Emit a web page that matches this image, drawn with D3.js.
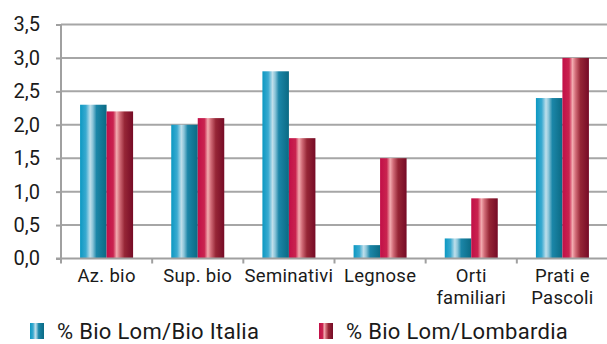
<!DOCTYPE html>
<html>
<head>
<meta charset="utf-8">
<script src="https://cdn.jsdelivr.net/npm/d3@7/dist/d3.min.js"></script>
<style>
  html, body { margin: 0; padding: 0; background: #fff; }
  svg { display: block; }
  text { font-family: Roboto, "DejaVu Sans", sans-serif; fill: #1a1a1a; }
</style>
</head>
<body>
<svg id="chart" width="607" height="344"></svg>
<script>
// Categories and the two series
const categories = ["Az. bio", "Sup. bio", "Seminativi", "Legnose", "Orti\nfamiliari", "Prati e\nPascoli"];
const bioItalia = [2.3, 2.0, 2.8, 0.2, 0.3, 2.4];
const bioLombardia = [2.2, 2.1, 1.8, 1.5, 0.9, 3.0];
const seriesNames = ["% Bio Lom/Bio Italia", "% Bio Lom/Lombardia"];
const yTicks = [0, 0.5, 1.0, 1.5, 2.0, 2.5, 3.0, 3.5];

const W = 607, H = 344;
const margin = { left: 61, right: 0, top: 24.5, bottom: 85.5 };
const svg = d3.select("#chart");

const x0 = d3.scaleBand().domain(categories).range([margin.left, W + 1]).paddingInner(0).paddingOuter(0);
const x1 = d3.scaleBand().domain([0, 1]).range([0, x0.bandwidth()]).paddingInner(0).paddingOuter(0.72);
const y = d3.scaleLinear().domain([0, 3.5]).range([H - margin.bottom, margin.top]);

// Metallic gradients for the bars
const defs = svg.append("defs");
function grad(id, stops) {
  const g = defs.append("linearGradient").attr("id", id).attr("x1", "0%").attr("x2", "100%").attr("y1", "0%").attr("y2", "0%");
  stops.forEach(([o, c]) => g.append("stop").attr("offset", o).attr("stop-color", c));
}
grad("gTeal", [["0%", "#0b98c2"], ["22%", "#3aaad0"], ["38%", "#bfdfeb"], ["48%", "#8ac4d8"], ["62%", "#1b86a8"], ["100%", "#0b6a84"]]);
grad("gRed", [["0%", "#c20f48"], ["25%", "#c9234f"], ["38%", "#f3abb0"], ["50%", "#d06a76"], ["68%", "#962636"], ["100%", "#760b26"]]);
const fills = ["url(#gTeal)", "url(#gRed)"];

// Horizontal gridlines
svg.append("g").selectAll("line").data(yTicks.slice(1)).join("line")
  .attr("x1", margin.left).attr("x2", W)
  .attr("y1", d => y(d)).attr("y2", d => y(d))
  .attr("stroke", "#a6a6a6").attr("stroke-width", 2);

// Y axis
const yAxis = d3.axisLeft(y).tickValues(yTicks).tickSize(5).tickPadding(16)
  .tickFormat(d => d3.format(".1f")(d).replace(".", ","));
const gy = svg.append("g").attr("transform", `translate(${margin.left},0)`).call(yAxis);
gy.select(".domain").attr("stroke", "#a0a0a0").attr("stroke-width", 2)
  .attr("d", `M0,${y(3.5)}V${y(0) + 4}`);
gy.selectAll(".tick line").attr("stroke", "#a0a0a0").attr("stroke-width", 2);
gy.selectAll(".tick text").attr("font-size", 20).attr("fill", "#1a1a1a")
  .attr("font-family", "Roboto, sans-serif");

// Bars
const data = categories.map((c, i) => ({ c, v: [bioItalia[i], bioLombardia[i]] }));
svg.append("g").selectAll("g").data(data).join("g")
  .attr("transform", d => `translate(${x0(d.c)},0)`)
  .selectAll("rect").data(d => d.v.map((v, k) => ({ v, k }))).join("rect")
  .attr("x", d => x1(d.k)).attr("width", x1.bandwidth())
  .attr("y", d => y(d.v)).attr("height", d => y(0) - y(d.v))
  .attr("fill", d => fills[d.k]);

// X axis baseline and ticks
const xTicks = d3.range(categories.length + 1).map(i => margin.left + i * x0.bandwidth());
svg.append("line").attr("x1", margin.left - 5).attr("x2", W).attr("y1", y(0)).attr("y2", y(0))
  .attr("stroke", "#a0a0a0").attr("stroke-width", 2);
svg.append("g").selectAll("line").data(xTicks).join("line")
  .attr("x1", d => d).attr("x2", d => d).attr("y1", y(0)).attr("y2", y(0) + 5)
  .attr("stroke", "#a0a0a0").attr("stroke-width", 2);

// Category labels, one text element per line
const labelLines = categories.flatMap(c => c.split("\n").map((l, i) => ({ c, l, i })));
svg.append("g").selectAll("text").data(labelLines).join("text")
  .attr("text-anchor", "middle").attr("font-size", 18.5).attr("letter-spacing", 0.3)
  .attr("x", d => x0(d.c) + x0.bandwidth() / 2)
  .attr("y", d => 281.5 + d.i * 22)
  .text(d => d.l);

// Legend
const legendX = [30, 319];
const leg = svg.append("g").selectAll("g").data(seriesNames).join("g")
  .attr("transform", (d, i) => `translate(${legendX[i]},323)`);
leg.append("rect").attr("width", 14).attr("height", 16).attr("fill", (d, i) => fills[i]);
leg.append("text").attr("x", 27).attr("y", 16).attr("font-size", 22).attr("letter-spacing", 0.3).text(d => d);
</script>
</body>
</html>
